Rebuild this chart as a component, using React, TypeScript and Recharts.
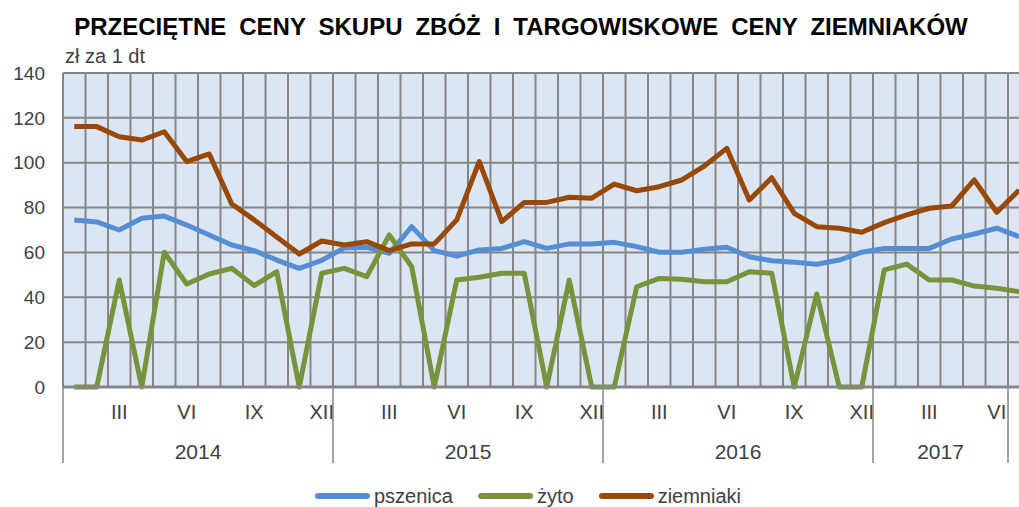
import { LineChart, Line, XAxis, YAxis, CartesianGrid } from 'recharts'

// months Jan 2014 .. Jul 2017
const pszenica = [
  74.5, 73.6, 70.0, 75.2, 76.2, 72.2, 67.8, 63.3, 60.8, 56.6, 52.9, 56.5,
  62.0, 62.3, 59.6, 71.5, 60.8, 58.4, 61.1, 61.8, 64.8, 61.8, 63.8, 63.8,
  64.5, 62.6, 60.1, 60.1, 61.4, 62.3, 58.1, 56.3, 55.6, 54.7, 56.6, 60.1,
  61.8, 61.8, 61.8, 66.0, 68.2, 70.8, 67.0,
]
const zyto = [
  0, 0, 47.7, 0, 60.1, 45.9, 50.4, 52.9, 45.2, 51.4, 0, 50.7,
  52.9, 49.2, 67.8, 53.6, 0, 47.7, 48.9, 50.7, 50.7, 0, 47.7, 0,
  0, 44.7, 48.4, 48.0, 46.9, 46.9, 51.4, 50.7, 0, 41.5, 0, 0,
  52.2, 54.8, 47.7, 47.7, 45.0, 44.0, 42.5,
]
const ziemniaki = [
  116.1, 116.1, 111.6, 110.1, 113.8, 100.5, 103.9, 81.6, 74.5, 66.9, 59.3, 65.1,
  63.3, 64.8, 60.8, 63.8, 63.8, 74.5, 100.5, 73.7, 82.3, 82.3, 84.6, 84.2,
  90.5, 87.5, 89.3, 92.3, 98.5, 106.4, 83.4, 93.3, 77.4, 71.5, 70.8, 69.0,
  73.3, 76.7, 79.7, 80.7, 92.3, 77.9, 87.8,
]

const years = ['2014', '2015', '2016', '2017']
const yearLengths = [12, 12, 12, 6]
const quarterMonths = [3, 6, 9, 12]
const quarterLabels = ['III', 'VI', 'IX', 'XII']
const yTicks = [0, 20, 40, 60, 80, 100, 120, 140]

const series = [
  { key: 'pszenica', name: 'pszenica', color: '#558ed5' },
  { key: 'zyto', name: 'żyto', color: '#77933c' },
  { key: 'ziemniaki', name: 'ziemniaki', color: '#984807' },
]

const data = pszenica.map((v, i) => ({
  x: i + 0.5,
  pszenica: v,
  zyto: zyto[i],
  ziemniaki: ziemniaki[i],
}))
const nMonths = data.length

// month labels, year boundaries and year label positions
const monthLabel = new Map<number, string>()
const yearBoundaries: number[] = [0]
const yearCenter = new Map<number, string>()
let start = 0
years.forEach((y, yi) => {
  quarterMonths.forEach((m, qi) => {
    if (m <= yearLengths[yi]) monthLabel.set(start + m - 0.5, quarterLabels[qi])
  })
  yearCenter.set(start + yearLengths[yi] / 2, y)
  start += yearLengths[yi]
  yearBoundaries.push(start)
})
const monthTicks = [...monthLabel.keys()]
const yearTicks = [...yearBoundaries, ...yearCenter.keys()].sort((a, b) => a - b)
const gridTicks = Array.from({ length: nMonths + 1 }, (_, i) => i)

const textColor = '#404040'
const gridColor = '#868686'

function YearTick(props: any) {
  const { x, y, payload } = props
  const v = payload.value
  if (yearBoundaries.includes(v)) {
    return <line x1={x} x2={x} y1={y - 40} y2={y + 36} stroke={gridColor} strokeWidth={1.5} />
  }
  return (
    <text x={x} y={y + 32} textAnchor="middle" fill={textColor} fontSize={21}>
      {yearCenter.get(v)}
    </text>
  )
}

export default function App() {
  return (
    <div
      style={{
        position: 'fixed',
        left: 0,
        top: 0,
        width: 1019,
        height: 507,
        overflow: 'hidden',
        background: '#fff',
        fontFamily: '"Liberation Sans", Arial, sans-serif',
      }}
    >
      <div
        style={{
          position: 'absolute',
          top: 15,
          left: 0,
          width: 1042,
          textAlign: 'center',
          fontSize: 24,
          lineHeight: '24px',
          fontWeight: 'bold',
          wordSpacing: 6.3,
          color: '#000',
          whiteSpace: 'nowrap',
        }}
      >
        PRZECIĘTNE CENY SKUPU ZBÓŻ I TARGOWISKOWE CENY ZIEMNIAKÓW
      </div>
      <div
        style={{
          position: 'absolute',
          top: 46,
          left: 65,
          fontSize: 20,
          lineHeight: '20px',
          color: textColor,
        }}
      >
        zł za 1 dt
      </div>
      <div style={{ position: 'absolute', left: 0, top: 0 }}>
        <LineChart
          width={1040}
          height={507}
          data={data}
          margin={{ top: 73, right: 9.5, left: 0, bottom: 40 }}
        >
          <CartesianGrid
            xAxisId="g"
            stroke={gridColor}
            strokeWidth={2}
            fill="#dce6f2"
            fillOpacity={1}
          />
          <XAxis
            xAxisId="g"
            type="number"
            dataKey="x"
            domain={[0, nMonths]}
            ticks={gridTicks}
            interval={0}
            height={0}
            hide
          />
          <XAxis
            xAxisId="m"
            type="number"
            dataKey="x"
            domain={[0, nMonths]}
            ticks={monthTicks}
            interval={0}
            height={40}
            tickLine={false}
            tickSize={0}
            tickMargin={18}
            axisLine={{ stroke: gridColor, strokeWidth: 3 }}
            tick={{ fill: textColor, fontSize: 20 }}
            tickFormatter={(v: number) => monthLabel.get(v) ?? ''}
          />
          <XAxis
            xAxisId="y"
            type="number"
            dataKey="x"
            domain={[0, nMonths]}
            ticks={yearTicks}
            interval={0}
            height={40}
            tickLine={false}
            tickSize={0}
            tickMargin={0}
            axisLine={false}
            tick={<YearTick />}
          />
          <YAxis
            domain={[0, 140]}
            ticks={yTicks}
            width={63}
            axisLine={false}
            tickLine={false}
            tickSize={0}
            tickMargin={18}
            tick={{ fill: textColor, fontSize: 19 }}
          />
          {series.map((s) => (
            <Line
              key={s.key}
              xAxisId="g"
              type="linear"
              dataKey={s.key}
              name={s.name}
              stroke={s.color}
              strokeWidth={5}
              strokeLinejoin="round"
              dot={false}
              activeDot={false}
              isAnimationActive={false}
            />
          ))}
        </LineChart>
      </div>
      <div
        style={{
          position: 'absolute',
          top: 484,
          left: 0,
          width: 1056,
          display: 'flex',
          justifyContent: 'center',
          alignItems: 'center',
          fontSize: 20,
          lineHeight: '24px',
          color: textColor,
        }}
      >
        {series.map((s, i) => (
          <div
            key={s.key}
            style={{ display: 'flex', alignItems: 'center', marginLeft: i === 0 ? 0 : 25 }}
          >
            <span
              style={{
                display: 'inline-block',
                width: 55,
                height: 6,
                borderRadius: 3,
                background: s.color,
                marginRight: 4,
              }}
            />
            <span>{s.name}</span>
          </div>
        ))}
      </div>
    </div>
  )
}
